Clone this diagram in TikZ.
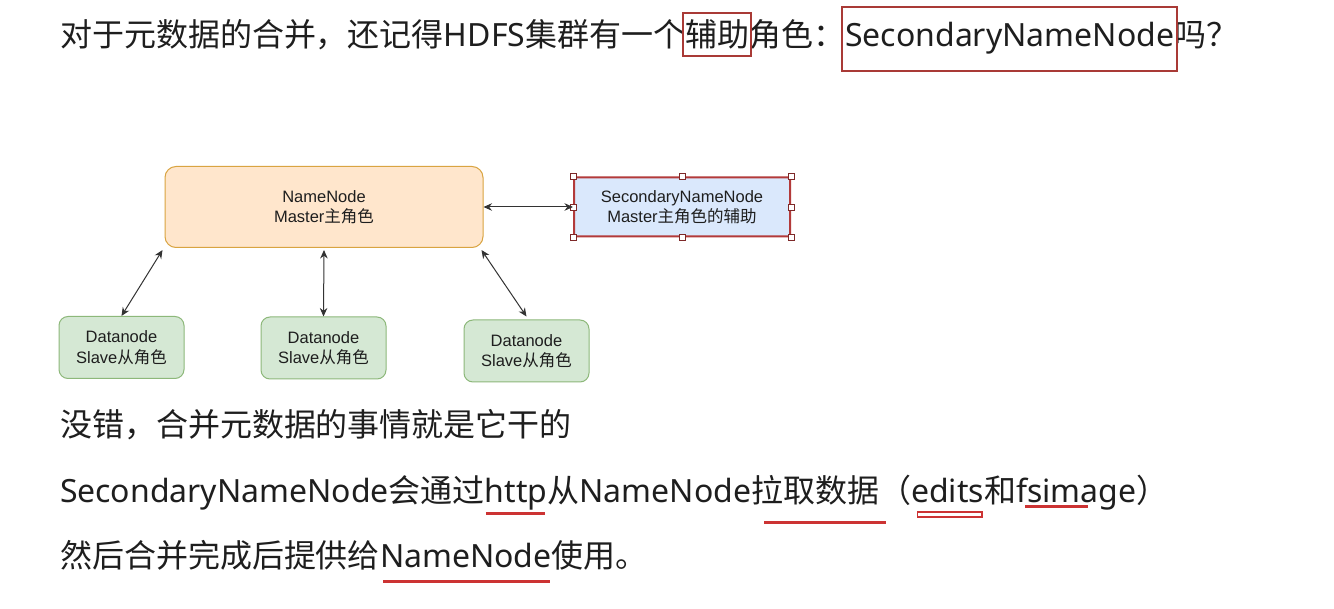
\documentclass[tikz,border=0pt]{standalone}
\usepackage{fontspec}
\setmainfont{Noto Sans}
\newfontfamily\cjk{Noto Sans CJK SC}
\newfontfamily\arl{Liberation Sans}
\usetikzlibrary{arrows.meta}
\newcommand{\Cj}[1]{{\cjk #1}}
\definecolor{ink}{HTML}{1E1E1E}
\definecolor{nnfill}{HTML}{FFE6CC}
\definecolor{nndraw}{HTML}{D9A441}
\definecolor{dnfill}{HTML}{D5E8D4}
\definecolor{dndraw}{HTML}{8DB87A}
\definecolor{snnfill}{HTML}{DAE8FC}
\definecolor{selred}{HTML}{B33A3A}
\definecolor{boxred}{HTML}{A93A36}
\definecolor{ulred}{HTML}{CC3333}
\definecolor{arrowgray}{HTML}{333333}
\begin{document}
\begin{tikzpicture}[x=1pt,y=-1pt,
  bigtxt/.style={inner sep=0pt, outer sep=0pt, anchor=base west, text=ink,
    font=\fontsize{32}{38}\selectfont},
  diag/.style={align=center, text=ink, inner sep=0pt, line width=1pt,
    font=\arl\fontsize{16.5}{20.5}\selectfont},
  nnbox/.style={diag, rounded corners=11pt, fill=nnfill, draw=nndraw,
    minimum width=318pt, minimum height=81pt},
  dnbox/.style={diag, rounded corners=9pt, fill=dnfill, draw=dndraw,
    minimum width=125pt, minimum height=62pt},
  snnbox/.style={diag, rounded corners=2pt, fill=snnfill, draw=selred, line width=2pt,
    minimum width=216pt, minimum height=59pt},
  handle/.style={fill=white, draw=selred!70!black, line width=0.8pt},
  link/.style={draw=arrowgray, line width=1pt,
    {Stealth[length=8.5pt,width=7.5pt]}-{Stealth[length=8.5pt,width=7.5pt]}},
  redbox/.style={draw=boxred, line width=2pt},
  uline/.style={draw=ulred, line width=3pt}
]
\fill[white] (0,0) rectangle (1334,609);
\useasboundingbox (0,0) rectangle (1334,609);

% ---------- top line ----------
\node[bigtxt] (t1) at (60,47) {\Cj{对于元数据的合并，还记得}HDFS\Cj{集群有一个}};
\node[bigtxt] (t2) at (t1.base east) {\Cj{辅助}};
\node[bigtxt] (t3) at (t2.base east) {\Cj{角色：}};
\node[bigtxt] (t4) at (t3.base east) {SecondaryNameNode};
\node[bigtxt] (t5) at (t4.base east) {\Cj{吗？}};
\draw[redbox] ([xshift=-2pt,yshift=34pt]t2.base west) rectangle ([xshift=2pt,yshift=-9pt]t2.base east);
\draw[redbox] ([xshift=-3pt,yshift=40pt]t4.base west) rectangle ([xshift=3pt,yshift=-24pt]t4.base east);

% ---------- diagram ----------
\node[nnbox] (nn) at (324,207) {NameNode\\Master\Cj{主角色}};
\node[snnbox] (snn) at (682,207) {SecondaryNameNode\\Master\Cj{主角色的辅助}};
\foreach \a in {north west,north,north east,west,east,south west,south,south east}
  \draw[handle] ([xshift=-3pt,yshift=-3pt]snn.\a) rectangle ([xshift=3pt,yshift=3pt]snn.\a);
\node[dnbox] (dn1) at (121.5,347.5) {Datanode\\Slave\Cj{从角色}};
\node[dnbox] (dn2) at (323.5,348) {Datanode\\Slave\Cj{从角色}};
\node[dnbox] (dn3) at (526.5,351) {Datanode\\Slave\Cj{从角色}};

\draw[link] (nn.east) -- (snn.west);
\draw[link] ([xshift=-2pt,yshift=-2pt]nn.south west) -- (dn1.north);
\draw[link] ([yshift=-2pt]nn.south) -- (dn2.north);
\draw[link] ([xshift=-2pt,yshift=-2pt]nn.south east) -- ([yshift=3pt]dn3.north);

% ---------- bottom text ----------
\node[bigtxt] (b1) at (60,437) {\Cj{没错，合并元数据的事情就是它干的}};

\node[bigtxt] (c1) at (60,502) {SecondaryNameNode\Cj{会通过}};
\node[bigtxt] (c2) at (c1.base east) {http};
\node[bigtxt] (c3) at (c2.base east) {\Cj{从}NameNode};
\node[bigtxt] (c4) at (c3.base east) {\Cj{拉取数据}};
\node[bigtxt] (c5) at (c4.base east) {\Cj{（}};
\node[bigtxt] (c6) at (c5.base east) {edits};
\node[bigtxt] (c7) at (c6.base east) {\Cj{和}};
\node[bigtxt] (c8) at (c7.base east) {fsimage};
\node[bigtxt] (c9) at (c8.base east) {\Cj{）}};

\node[bigtxt] (d1) at (60,567) {\Cj{然后合并完成后提供给}};
\node[bigtxt] (d2) at (d1.base east) {NameNode};
\node[bigtxt] (d3) at (d2.base east) {\Cj{使用。}};

% underlines
\draw[uline] ([xshift=1pt,yshift=-11pt]c2.base west) -- ([xshift=-2pt,yshift=-11pt]c2.base east);
\draw[uline] ([xshift=13pt,yshift=-20pt]c4.base west) -- ([xshift=7pt,yshift=-20pt]c4.base east);
\draw[draw=ulred, fill=white, line width=1.2pt] ([xshift=6pt,yshift=-10pt]c6.base west) rectangle ([xshift=-2pt,yshift=-15pt]c6.base east);
\draw[uline] ([xshift=9pt,yshift=-4pt]c8.base west) -- ([xshift=72pt,yshift=-4pt]c8.base west);
\draw[uline] ([xshift=3pt,yshift=-14pt]d2.base west) -- ([xshift=-2pt,yshift=-14pt]d2.base east);
\end{tikzpicture}
\end{document}
